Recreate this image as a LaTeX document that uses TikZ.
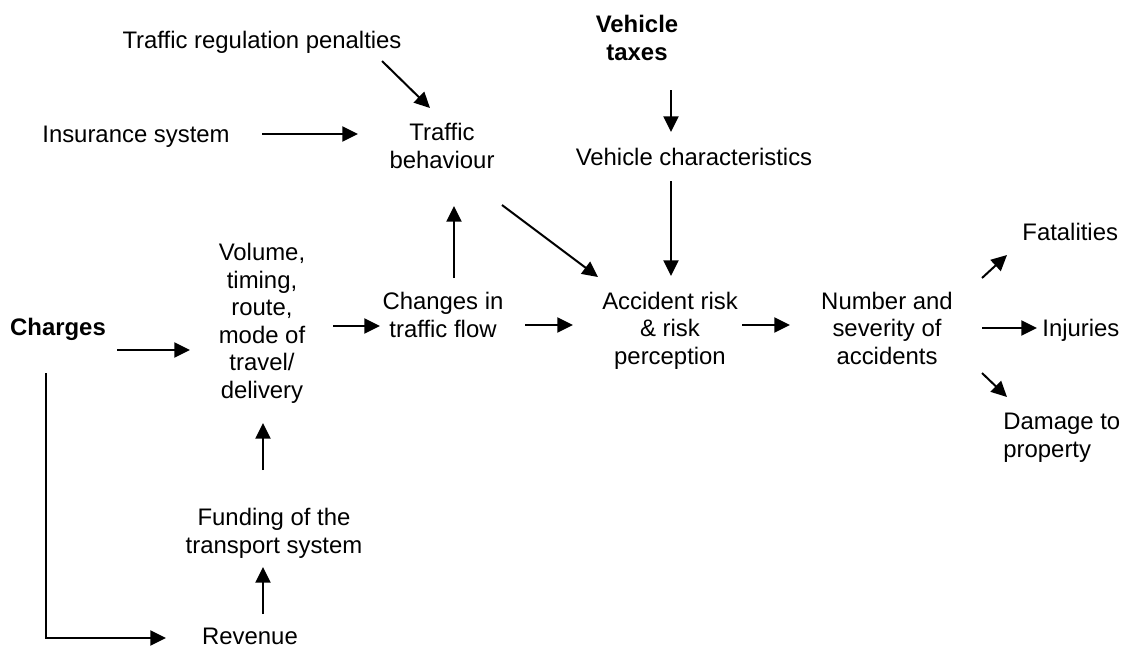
\documentclass[tikz,border=0pt]{standalone}
\usepackage{fontspec}
\setmainfont{Liberation Sans}
\usetikzlibrary{arrows.meta}
\begin{document}
\begin{tikzpicture}[x=0.5pt,y=-0.5pt,
  lbl/.style={font=\fontsize{11.95pt}{13.75pt}\selectfont, align=center, anchor=base, inner sep=0pt},
  lblb/.style={lbl, font=\fontsize{11.95pt}{13.75pt}\selectfont\bfseries},
  arr/.style={line width=1pt, -{Triangle[length=7.8pt,width=7.5pt]}}]
\useasboundingbox (0,0) rectangle (1121,645);
% nodes (anchor = baseline of the last line)
\node[lbl] (pen) at (262,48) {Traffic regulation penalties};
\node[lblb] (tax) at (637,60) {Vehicle\\taxes};
\node[lbl] (ins) at (136,142) {Insurance system};
\node[lbl] (beh) at (442,168) {Traffic\\behaviour};
\node[lbl] (vch) at (694,165) {Vehicle characteristics};
\node[lbl] (vol) at (262,398) {Volume,\\timing,\\route,\\mode of\\travel/\\delivery};
\node[lblb] (chgs) at (58,335) {Charges};
\node[lbl] (chg) at (443,337) {Changes in\\traffic flow};
\node[lbl] (acc) at (670,364) {Accident risk\\\& risk\\perception};
\node[lbl] (num) at (887,364) {Number and\\severity of\\accidents};
\node[lbl, anchor=base west] (fat) at (1022,240) {Fatalities};
\node[lbl, anchor=base west] (inj) at (1042,336) {Injuries};
\node[lbl, align=left, anchor=base west] (dam) at (1003,457) {Damage to\\property};
\node[lbl] (fun) at (274,553) {Funding of the\\transport system};
\node[lbl] (rev) at (250,644) {Revenue};
% connector end points
\coordinate (penS) at (382,61);  \coordinate (behA) at (430,108);
\coordinate (insS) at (262,134); \coordinate (behB) at (358,134);
\coordinate (taxS) at (671,90);  \coordinate (vchE) at (671,132);
\coordinate (vchS) at (671,181); \coordinate (accA) at (671,276);
\coordinate (behS) at (502,205); \coordinate (accB) at (598,277);
\coordinate (chgU) at (454,278); \coordinate (behC) at (454,206);
\coordinate (chgsS) at (117,350); \coordinate (volA) at (190,350);
\coordinate (volS) at (333,326); \coordinate (chgE) at (380,326);
\coordinate (chgS) at (525,325); \coordinate (accC) at (573,325);
\coordinate (accS) at (742,325); \coordinate (numE) at (790,325);
\coordinate (numF) at (982,278); \coordinate (fatE) at (1007,255);
\coordinate (numI) at (982,328); \coordinate (injE) at (1037,328);
\coordinate (numD) at (982,373); \coordinate (damE) at (1007,397);
\coordinate (funS) at (263,470); \coordinate (volB) at (263,423);
\coordinate (revS) at (263,614); \coordinate (funE) at (263,567);
\coordinate (chgsD) at (46,373); \coordinate (corner) at (46,638); \coordinate (revE) at (166,638);
% connectors
\draw[arr] (penS) -- (behA);
\draw[arr] (insS) -- (behB);
\draw[arr] (taxS) -- (vchE);
\draw[arr] (vchS) -- (accA);
\draw[arr] (behS) -- (accB);
\draw[arr] (chgU) -- (behC);
\draw[arr] (chgsS) -- (volA);
\draw[arr] (volS) -- (chgE);
\draw[arr] (chgS) -- (accC);
\draw[arr] (accS) -- (numE);
\draw[arr] (numF) -- (fatE);
\draw[arr] (numI) -- (injE);
\draw[arr] (numD) -- (damE);
\draw[arr] (funS) -- (volB);
\draw[arr] (revS) -- (funE);
\draw[arr] (chgsD) -- (corner) -- (revE);
\end{tikzpicture}
\end{document}
